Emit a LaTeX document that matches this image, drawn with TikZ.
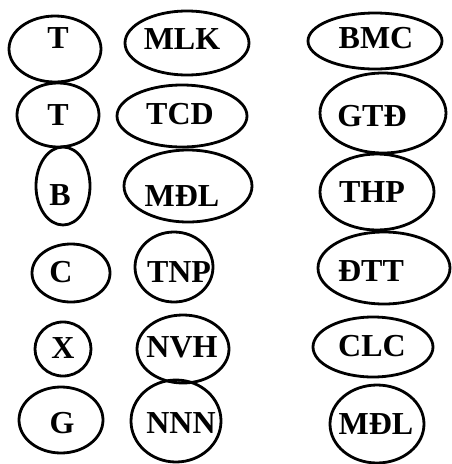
\documentclass[tikz,border=0pt]{standalone}
\usepackage{fontspec}
\setmainfont{Liberation Serif}

\begin{document}
\begin{tikzpicture}[
    x=1pt, y=-1pt,
    ring/.style={line width=2.8pt},
    lbl/.style={inner sep=0pt, font=\fontsize{32}{34}\selectfont\bfseries}
]
\useasboundingbox[fill=white] (0,0) rectangle (451,464);

% === Column 1 ===
\draw[ring] (55,49) ellipse [x radius=46pt, y radius=33pt];
\node[lbl] (t1) at (58,38) {T};
\draw[ring] (58,115) ellipse [x radius=41pt, y radius=32pt];
\node[lbl] (t2) at (58,115) {T};
\draw[ring] (63,186) ellipse [x radius=27pt, y radius=39pt];
\node[lbl] (b) at (60,195) {B};
\draw[ring] (71,273) ellipse [x radius=39pt, y radius=29pt];
\node[lbl] (c) at (61,272) {C};
\draw[ring] (63,349) ellipse [x radius=28pt, y radius=27pt];
\node[lbl] (x) at (63,348) {X};
\draw[ring] (61,420) ellipse [x radius=42pt, y radius=33pt];
\node[lbl] (g) at (62,423) {G};

% === Column 2 ===
\draw[ring] (187,43) ellipse [x radius=62pt, y radius=32pt];
\node[lbl] (mlk) at (182,39) {MLK};
\draw[ring] (182,116) ellipse [x radius=65pt, y radius=31pt];
\node[lbl] (tcd) at (180,114) {TCD};
\draw[ring] (188,186) ellipse [x radius=64pt, y radius=36pt];
\node[lbl] (mdl) at (182,196) {MĐL};
\draw[ring] (174,267) ellipse [x radius=39pt, y radius=35pt];
\node[lbl] (tnp) at (179,272) {TNP};
\draw[ring] (183,349) ellipse [x radius=46pt, y radius=34pt];
\node[lbl] (nvh) at (182,347) {NVH};
\draw[ring] (176,421) ellipse [x radius=45pt, y radius=41pt];
\node[lbl] (nnn) at (181,423) {NNN};

% === Column 3 ===
\draw[ring] (375,41) ellipse [x radius=67pt, y radius=28pt];
\node[lbl] (bmc) at (376,38) {BMC};
\draw[ring] (383,113) ellipse [x radius=63pt, y radius=40pt];
\node[lbl] (gtd) at (372,116) {GTĐ};
\draw[ring] (377,192) ellipse [x radius=57pt, y radius=38pt];
\node[lbl] (thp) at (372,192) {THP};
\draw[ring] (384,268) ellipse [x radius=66pt, y radius=36pt];
\node[lbl] (dtt) at (371,271) {ĐTT};
\draw[ring] (373,347) ellipse [x radius=60pt, y radius=30pt];
\node[lbl] (clc) at (372,346) {CLC};
\draw[ring] (377,424) ellipse [x radius=47pt, y radius=39pt];
\node[lbl] (mdl2) at (376,424) {MĐL};

\end{tikzpicture}
\end{document}
